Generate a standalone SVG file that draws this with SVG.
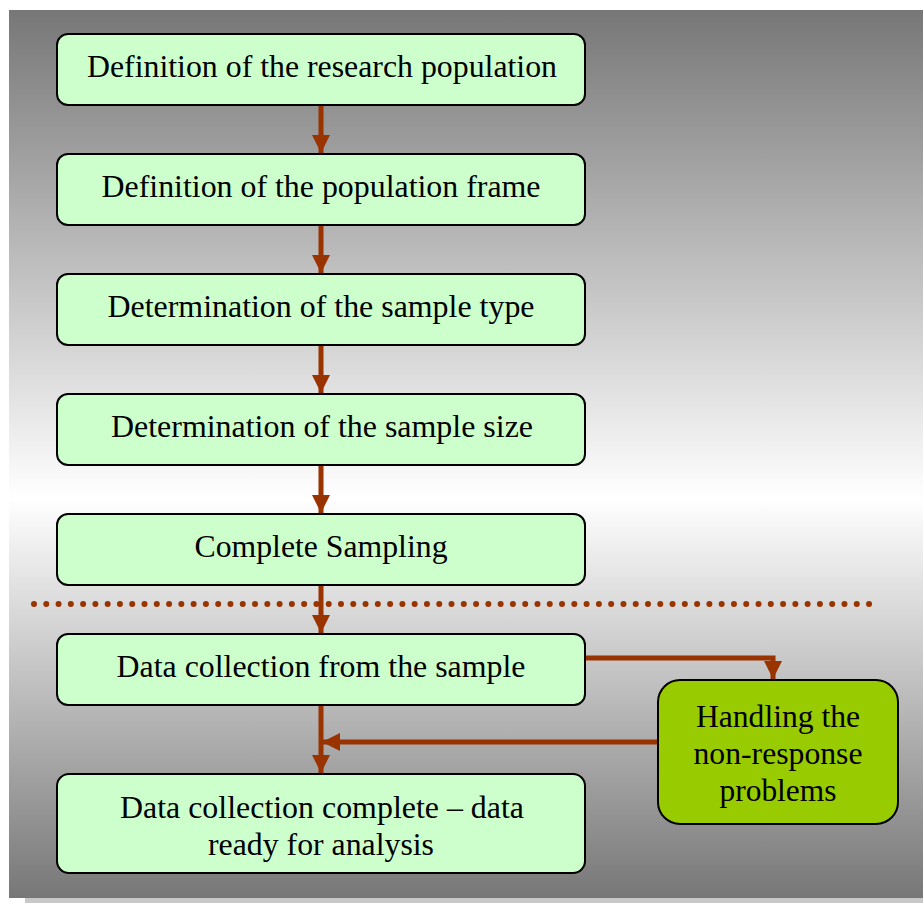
<svg xmlns="http://www.w3.org/2000/svg" width="923" height="903" viewBox="0 0 923 903">
<defs>
<linearGradient id="bg" x1="0" y1="0" x2="0" y2="1">
<stop offset="0" stop-color="#777777"/>
<stop offset="0.55" stop-color="#ffffff"/>
<stop offset="1" stop-color="#777777"/>
</linearGradient>
<marker id="ah" markerWidth="18" markerHeight="18" viewBox="0 0 18 18" refX="18" refY="9" orient="auto" markerUnits="userSpaceOnUse">
<path d="M0,0 L18,9 L0,18 Z" fill="#993300"/>
</marker>
<style>
.box{fill:#ccffcc;stroke:#000;stroke-width:2}
.box2{fill:#99cc00;stroke:#000;stroke-width:2}
.t{font-family:"Liberation Serif","Times New Roman",serif;font-size:31px;fill:#000;text-anchor:middle}
.c{stroke:#993300;stroke-width:5;fill:none}
</style>
</defs>
<rect x="0" y="0" width="923" height="903" fill="#ffffff"/>
<rect x="25" y="896" width="898" height="7" fill="#c8c8c8"/>
<rect x="9" y="10" width="914" height="888" fill="url(#bg)"/>
<g id="connectors">
<line class="c" x1="321" y1="106" x2="321" y2="153" marker-end="url(#ah)"/>
<line class="c" x1="321" y1="226" x2="321" y2="273" marker-end="url(#ah)"/>
<line class="c" x1="321" y1="346" x2="321" y2="393" marker-end="url(#ah)"/>
<line class="c" x1="321" y1="466" x2="321" y2="513" marker-end="url(#ah)"/>
<line class="c" x1="321" y1="586" x2="321" y2="633" marker-end="url(#ah)"/>
<line class="c" x1="321" y1="706" x2="321" y2="773" marker-end="url(#ah)"/>
<polyline class="c" points="586,658 773,658 773,679" marker-end="url(#ah)"/>
<line class="c" x1="657" y1="742" x2="322" y2="742" marker-end="url(#ah)"/>
</g>
<g id="divider">
<line x1="34" y1="604" x2="871" y2="604" stroke="#993300" stroke-width="6" stroke-linecap="round" stroke-dasharray="0 12.28"/>
</g>
<g id="n1"><rect class="box" x="57" y="34" width="528" height="71" rx="11"/><text class="t" x="322" y="77" textLength="470" lengthAdjust="spacingAndGlyphs">Definition of the research population</text></g>
<g id="n2"><rect class="box" x="57" y="154" width="528" height="71" rx="11"/><text class="t" x="321" y="197" textLength="439" lengthAdjust="spacingAndGlyphs">Definition of the population frame</text></g>
<g id="n3"><rect class="box" x="57" y="274" width="528" height="71" rx="11"/><text class="t" x="321" y="317" textLength="427" lengthAdjust="spacingAndGlyphs">Determination of the sample type</text></g>
<g id="n4"><rect class="box" x="57" y="394" width="528" height="71" rx="11"/><text class="t" x="322" y="437" textLength="422" lengthAdjust="spacingAndGlyphs">Determination of the sample size</text></g>
<g id="n5"><rect class="box" x="57" y="514" width="528" height="71" rx="11"/><text class="t" x="321" y="557" textLength="253" lengthAdjust="spacingAndGlyphs">Complete Sampling</text></g>
<g id="n6"><rect class="box" x="57" y="634" width="528" height="71" rx="11"/><text class="t" x="321" y="677" textLength="409" lengthAdjust="spacingAndGlyphs">Data collection from the sample</text></g>
<g id="n7"><rect class="box" x="57" y="774" width="528" height="99" rx="12"/><text class="t" x="322" y="818" textLength="404" lengthAdjust="spacingAndGlyphs">Data collection complete – data</text><text class="t" x="321" y="855" textLength="226" lengthAdjust="spacingAndGlyphs">ready for analysis</text></g>
<g id="n8"><rect class="box2" x="658" y="680" width="240" height="144" rx="22"/><text class="t" x="778" y="727" textLength="164" lengthAdjust="spacingAndGlyphs">Handling the</text><text class="t" x="778" y="764" textLength="169" lengthAdjust="spacingAndGlyphs">non-response</text><text class="t" x="778" y="801" textLength="117" lengthAdjust="spacingAndGlyphs">problems</text></g>
</svg>
